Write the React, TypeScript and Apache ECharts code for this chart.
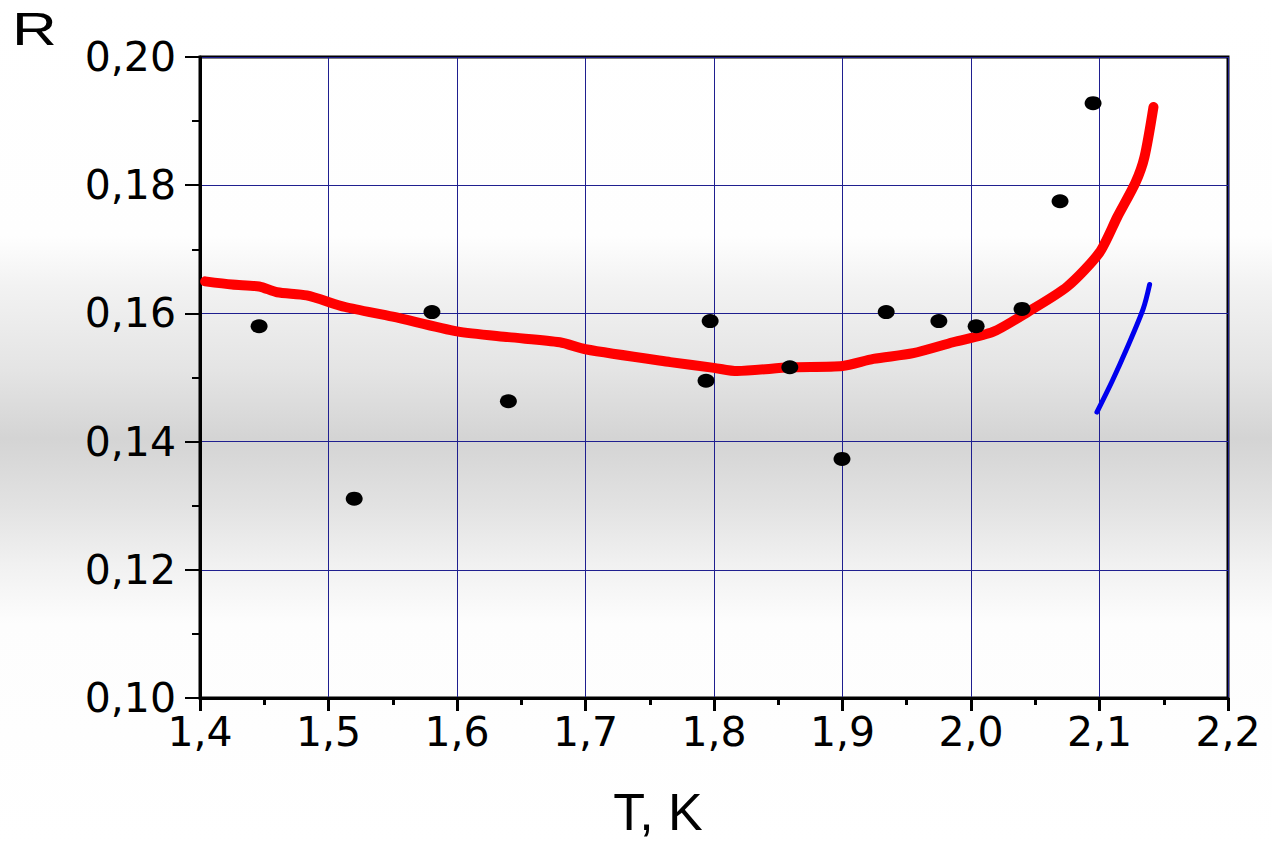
import React, { useEffect, useRef } from "react";
import * as echarts from "echarts";

// Experimental points (T, R)
const pointT = [1.446, 1.52, 1.5805, 1.64, 1.7938, 1.797, 1.859, 1.8996, 1.934, 1.975, 2.004, 2.0397, 2.0693, 2.095];
const pointR = [0.158, 0.1311, 0.1602, 0.1463, 0.1495, 0.1588, 0.1516, 0.1373, 0.1602, 0.1588, 0.158, 0.1607, 0.1775, 0.1928];

// Red curve
const redT = [1.404, 1.425, 1.446, 1.46, 1.483, 1.513, 1.55, 1.6, 1.64, 1.68, 1.7, 1.766, 1.8, 1.818, 1.859, 1.9, 1.924, 1.955, 1.986, 2.017, 2.044, 2.075, 2.1, 2.114, 2.128, 2.135, 2.142];
const redR = [0.165, 0.1645, 0.1642, 0.1633, 0.1628, 0.161, 0.1595, 0.1572, 0.1563, 0.1555, 0.1544, 0.1524, 0.1515, 0.151, 0.1516, 0.1518, 0.1529, 0.1538, 0.1555, 0.1571, 0.1602, 0.1642, 0.1695, 0.1751, 0.1804, 0.1844, 0.1922];

// Blue curve
const blueT = [2.098, 2.11, 2.121, 2.134, 2.139];
const blueR = [0.1446, 0.1495, 0.1544, 0.1607, 0.1645];

const xTitle = "T, K";
const yTitle = "R";

const zip = (a: number[], b: number[]) => a.map((v, i) => [v, b[i]]);

export default function App() {
  const ref = useRef<HTMLDivElement>(null);
  useEffect(() => {
    if (!ref.current) return;
    const chart = echarts.init(ref.current, undefined, { renderer: "svg" });
    const tickFont = { fontFamily: "DejaVu Sans", fontSize: 41, color: "#000" };
    chart.setOption({
      animation: false,
      grid: {
        left: 200,
        right: 44,
        top: 57,
        bottom: 143,
        show: true,
        borderColor: "#000",
        borderWidth: 3,
        backgroundColor: "transparent",
      },
      graphic: [
        {
          type: "text",
          left: 12,
          top: 6,
          scaleX: 1.35,
          style: { text: yTitle, fontFamily: "Liberation Sans", fontSize: 46, fill: "#000" },
        },
      ],
      xAxis: {
        type: "value",
        min: 1.4,
        max: 2.2,
        interval: 0.1,
        name: xTitle,
        nameLocation: "middle",
        nameGap: 88,
        nameTextStyle: {
          fontFamily: "Liberation Sans",
          fontSize: 52,
          color: "#000",
          padding: [0, 112, 0, 0],
        },
        axisLine: { show: true, onZero: false, lineStyle: { color: "#000", width: 3 } },
        axisTick: { show: true, inside: false, length: 13, lineStyle: { color: "#000", width: 3 } },
        minorTick: { show: true, splitNumber: 2, length: 7, lineStyle: { color: "#000", width: 3 } },
        axisLabel: {
          ...tickFont,
          margin: 13,
          formatter: (v: number) => v.toFixed(1).replace(".", ","),
        },
        splitLine: { show: true, lineStyle: { color: "#1f1f8f", width: 1 } },
      },
      yAxis: {
        type: "value",
        min: 0.1,
        max: 0.2,
        interval: 0.02,
        axisLine: { show: true, onZero: false, lineStyle: { color: "#000", width: 3 } },
        axisTick: { show: true, inside: false, length: 15, lineStyle: { color: "#000", width: 2 } },
        minorTick: { show: true, splitNumber: 2, length: 8, lineStyle: { color: "#000", width: 2 } },
        axisLabel: {
          ...tickFont,
          margin: 24,
          formatter: (v: number) => v.toFixed(2).replace(".", ","),
        },
        splitLine: { show: true, lineStyle: { color: "#1f1f8f", width: 1 } },
      },
      series: [
        {
          type: "line",
          data: zip(redT, redR),
          showSymbol: false,
          symbol: "none",
          smooth: 0.25,
          lineStyle: { color: "#ff0000", width: 10, cap: "round", join: "round" },
          z: 3,
        },
        {
          type: "line",
          data: zip(blueT, blueR),
          showSymbol: false,
          symbol: "none",
          smooth: 0.3,
          lineStyle: { color: "#0000ee", width: 5, cap: "round", join: "round" },
          z: 3,
        },
        {
          type: "scatter",
          data: zip(pointT, pointR),
          symbol: "circle",
          symbolSize: [17, 14],
          itemStyle: { color: "#000", opacity: 1 },
          z: 4,
        },
      ],
    });
    return () => chart.dispose();
  }, []);
  return (
    <div
      style={{
        position: "fixed",
        left: 0,
        top: 0,
        width: 1272,
        height: 843,
        background:
          "linear-gradient(to bottom, #ffffff 0%, #fefefe 28%, #f2f2f2 34%, #e4e4e4 44%, #d4d4d4 52%, #e2e2e2 60%, #f1f1f1 67%, #fdfdfd 74%, #ffffff 100%)",
      }}
    >
      <div ref={ref} style={{ width: 1272, height: 843 }} />
    </div>
  );
}
